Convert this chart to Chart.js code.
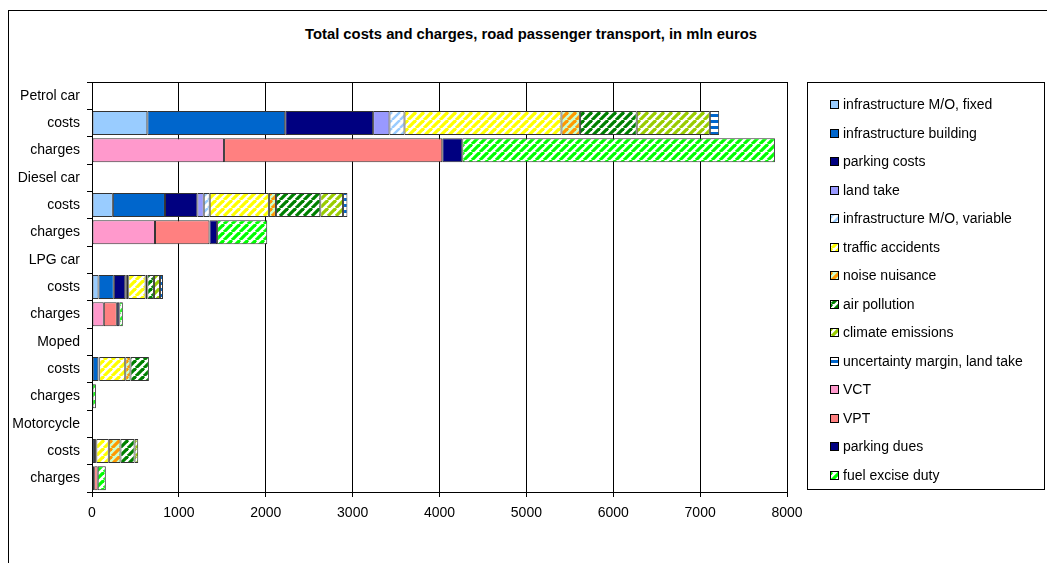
<!DOCTYPE html>
<html><head><meta charset="utf-8">
<script src="https://cdn.jsdelivr.net/npm/chart.js@4"></script>
<style>
html,body{margin:0;padding:0;background:#fff;}
#wrap{position:relative;width:1047px;height:563px;overflow:hidden;font-family:Arial,"Liberation Sans",sans-serif;}
#frame{position:absolute;left:8px;top:10px;width:1100px;height:600px;border:1px solid #000;}
#title{position:absolute;left:0;width:1062px;top:26px;text-align:center;font-weight:bold;font-size:14.8px;color:#000;}
#c{position:absolute;left:0;top:0;}
</style></head>
<body>
<div id="wrap">
  <div id="frame"></div>
  <div id="title">Total costs and charges, road passenger transport, in mln euros</div>
  <canvas id="c" width="1047" height="563"></canvas>
</div>
<script>
// ---- data ----
const categories = ['Petrol car','costs','charges','Diesel car','costs','charges','LPG car','costs','charges','Moped','costs','charges','Motorcycle','costs','charges'];
const xTicks = [0,1000,2000,3000,4000,5000,6000,7000,8000];
const seriesNames = ['infrastructure M/O, fixed','infrastructure building','parking costs','land take','infrastructure M/O, variable','traffic accidents','noise nuisance','air pollution','climate emissions','uncertainty margin, land take','VCT','VPT','parking dues','fuel excise duty'];
const infraFixed   = [null,637,null, null,240,null, null,75,null,  null,8,null,   null,10,null];
const infraBuild   = [null,1587,null,null,600,null, null,176,null, null,65,null,  null,25,null];
const parkingCosts = [null,1012,null,null,373,null, null,132,null, null,5,null,   null,10,null];
const landTake     = [null,188,null, null,73,null,  null,18,null,  null,0,null,   null,0,null];
const infraVar     = [null,173,null, null,69,null,  null,16,null,  null,5,null,   null,5,null];
const accidents    = [null,1807,null,null,681,null, null,200,null, null,300,null, null,143,null];
const noise        = [null,212,null, null,81,null,  null,20,null,  null,60,null,  null,135,null];
const airPollution = [null,654,null, null,511,null, null,76,null,  null,212,null, null,162,null];
const climate      = [null,842,null, null,262,null, null,69,null,  null,0,null,   null,42,null];
const uncertainty  = [null,107,null, null,50,null,  null,35,null,  null,0,null,   null,0,null];
const vct          = [null,null,1520,null,null,725, null,null,136, null,null,0,   null,null,25];
const vpt          = [null,null,2512,null,null,627, null,null,150, null,null,0,   null,null,41];
const parkingDues  = [null,null,230, null,null,88,  null,null,28,  null,null,0,   null,null,0];
const fuelExcise   = [null,null,3599,null,null,577, null,null,41,  null,null,45,  null,null,93];
const seriesValues = [infraFixed,infraBuild,parkingCosts,landTake,infraVar,accidents,noise,airPollution,climate,uncertainty,vct,vpt,parkingDues,fuelExcise];

// ---- fills ----
function diag(fg,bg,w){
  const s=8,t=document.createElement('canvas');t.width=s;t.height=s;
  const g=t.getContext('2d');g.fillStyle=bg;g.fillRect(0,0,s,s);
  g.strokeStyle=fg;g.lineWidth=w||3;
  for(let k=-1;k<=1;k++){g.beginPath();g.moveTo(k*s,s);g.lineTo(k*s+s,0);g.stroke();}
  return g.createPattern(t,'repeat');
}
function hstripe(fg,bg){
  const t=document.createElement('canvas');t.width=4;t.height=6;
  const g=t.getContext('2d');g.fillStyle=bg;g.fillRect(0,0,4,6);g.fillStyle=fg;g.fillRect(0,0,4,3);
  return g.createPattern(t,'repeat');
}
const fills = [
  '#99CCFF','#0066CC','#000080','#9999FF',
  diag('#99CCFF','#ffffff',2.5),
  diag('#FFFF00','#ffffff',3.2),
  diag('#FF9900','#CCFFCC',3.2),
  diag('#008000','#ffffff',3.2),
  diag('#99CC00','#ffffff',3.2),
  hstripe('#0066CC','#ffffff'),
  '#FF99CC','#FF8080','#000080',
  diag('#00FF00','#ffffff',3.2)
];

const datasets = seriesNames.map((n,i)=>({
  label:n, data:seriesValues[i], backgroundColor:fills[i],
  borderColor:'#333', borderWidth:1, borderSkipped:false,
  barPercentage:0.88, categoryPercentage:1.0
}));

const FONT = {family:'Arial, "Liberation Sans", sans-serif', size:14};

const customPlugin = {
  id:'custom',
  afterDraw(chart){
    const ctx=chart.ctx, a=chart.chartArea;
    ctx.save();
    ctx.strokeStyle='#000';ctx.lineWidth=1;
    ctx.beginPath();ctx.moveTo(a.left,Math.round(a.top)+0.5);ctx.lineTo(a.right,Math.round(a.top)+0.5);ctx.stroke();
    // legend
    ctx.strokeRect(807.5,82.5,237,407);
    ctx.font='14px Arial, "Liberation Sans", sans-serif';
    ctx.textBaseline='middle';ctx.textAlign='left';
    chart.data.datasets.forEach((d,i)=>{
      const y=Math.round(104+i*28.5);
      ctx.fillStyle=d.backgroundColor;ctx.fillRect(830,y-4,8,8);
      ctx.strokeStyle='#000';ctx.strokeRect(830.5,y-3.5,8,8);
      ctx.fillStyle='#000';ctx.fillText(d.label,843,y+1);
    });
    ctx.restore();
  }
};

new Chart(document.getElementById('c'),{
  type:'bar',
  data:{labels:categories,datasets},
  options:{
    indexAxis:'y',responsive:false,animation:false,
    layout:{padding:{top:82,right:260,left:0,bottom:0}},
    plugins:{legend:{display:false},title:{display:false},tooltip:{enabled:false}},
    scales:{
      x:{stacked:true,min:0,max:8000,
        afterBuildTicks(s){s.ticks=xTicks.map(v=>({value:v}));},
        afterFit(s){s.height=71;},
        grid:{color:'#000',lineWidth:1,tickLength:5,tickColor:'#000'},
        border:{color:'#000'},
        ticks:{color:'#000',font:FONT,padding:8,maxRotation:0,callback:(v)=>String(v)}
      },
      y:{stacked:true,
        afterFit(s){s.width=92;},
        grid:{offset:true,drawOnChartArea:false,tickLength:5,tickColor:'#000'},
        border:{color:'#000'},
        ticks:{color:'#000',font:FONT,padding:7,autoSkip:false}
      }
    }
  },
  plugins:[customPlugin]
});
</script>
</body></html>
